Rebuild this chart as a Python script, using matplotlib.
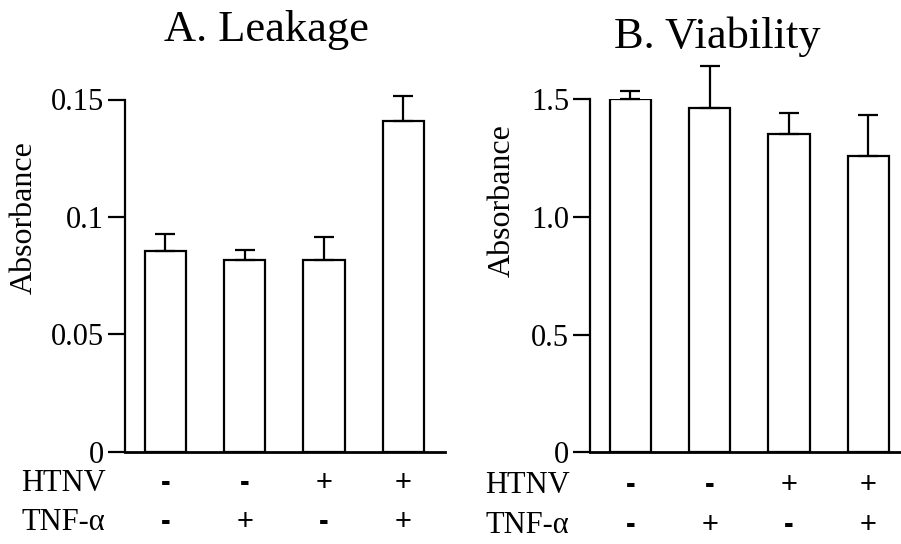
import matplotlib
matplotlib.use("Agg")
import matplotlib.pyplot as plt

plt.rcParams["font.family"] = ["Liberation Serif", "DejaVu Serif"]

# values
leak_mean = [0.0853, 0.0817, 0.0817, 0.1410]
leak_err = [0.0073, 0.0041, 0.0097, 0.0105]
viab_mean = [1.500, 1.463, 1.354, 1.260]
viab_err = [0.034, 0.177, 0.089, 0.172]

htnv = ["-", "-", "+", "+"]
tnf = ["-", "+", "-", "+"]

leak_ticks = [0, 0.05, 0.1, 0.15]
leak_ticklabels = ["0", "0.05", "0.1", "0.15"]
viab_ticks = [0, 0.5, 1.0, 1.5]
viab_ticklabels = ["0", "0.5", "1.0", "1.5"]

W, H = 901, 544
fig = plt.figure(figsize=(W / 100, H / 100), dpi=100)


def px(x0, y_top, w, h):
    return [x0 / W, (H - y_top - h) / H, w / W, h / H]


def panel(ax, means, errs, ymax, ticks, ticklabels):
    xs = range(len(means))
    ax.bar(xs, means, width=0.52, color="white", edgecolor="black", linewidth=1.6, zorder=2)
    eb = ax.errorbar(xs, means, yerr=[[0] * len(errs), errs], fmt="none", ecolor="black",
                     elinewidth=1.6, capsize=7, capthick=1.6, zorder=3)
    for art in eb.lines[1] + eb.lines[2]:
        art.set_clip_on(False)
    ax.set_xlim(-0.51, 3.525)
    ax.set_ylim(0, ymax)
    for s in ["top", "right"]:
        ax.spines[s].set_visible(False)
    ax.spines["left"].set_linewidth(1.6)
    ax.spines["bottom"].set_linewidth(2.0)
    ax.set_xticks([])
    ax.set_yticks(ticks)
    ax.set_yticklabels(ticklabels)
    ax.tick_params(axis="y", direction="out", length=12, width=1.6, labelsize=22, pad=3)


axA = fig.add_axes(px(125, 99.5, 320, 352.2))
panel(axA, leak_mean, leak_err, 0.15, leak_ticks, leak_ticklabels)
axB = fig.add_axes(px(590, 99.3, 320, 353))
panel(axB, viab_mean, viab_err, 1.5, viab_ticks, viab_ticklabels)

fig.text(266 / W, 1 - 30 / H, "A. Leakage", fontsize=32, ha="center", va="center")
fig.text(717 / W, 1 - 37 / H, "B. Viability", fontsize=32, ha="center", va="center")
fig.text(24 / W, 1 - 218 / H, "Absorbance", fontsize=23, rotation=90, ha="center", va="center")
fig.text(502 / W, 1 - 201 / H, "Absorbance", fontsize=23, rotation=90, ha="center", va="center")

# treatment rows under the bars
for ax, lx, rows_y in [(axA, 21, (-0.09, -0.20)), (axB, 485, (-0.093, -0.206))]:
    for name, signs, yy in [("HTNV", htnv, rows_y[0]), ("TNF-α", tnf, rows_y[1])]:
        for i, s in enumerate(signs):
            ax.text(i, yy, s, transform=ax.get_xaxis_transform(), fontsize=21,
                    family="Liberation Sans", fontweight="bold" if s == "-" else "normal",
                    ha="center", va="center")
        ybox = ax.transAxes.transform((0, yy))[1]
        fig.text(lx / W, ybox / H, name, fontsize=22, ha="left", va="center")

fig.savefig("out.png", dpi=100)
